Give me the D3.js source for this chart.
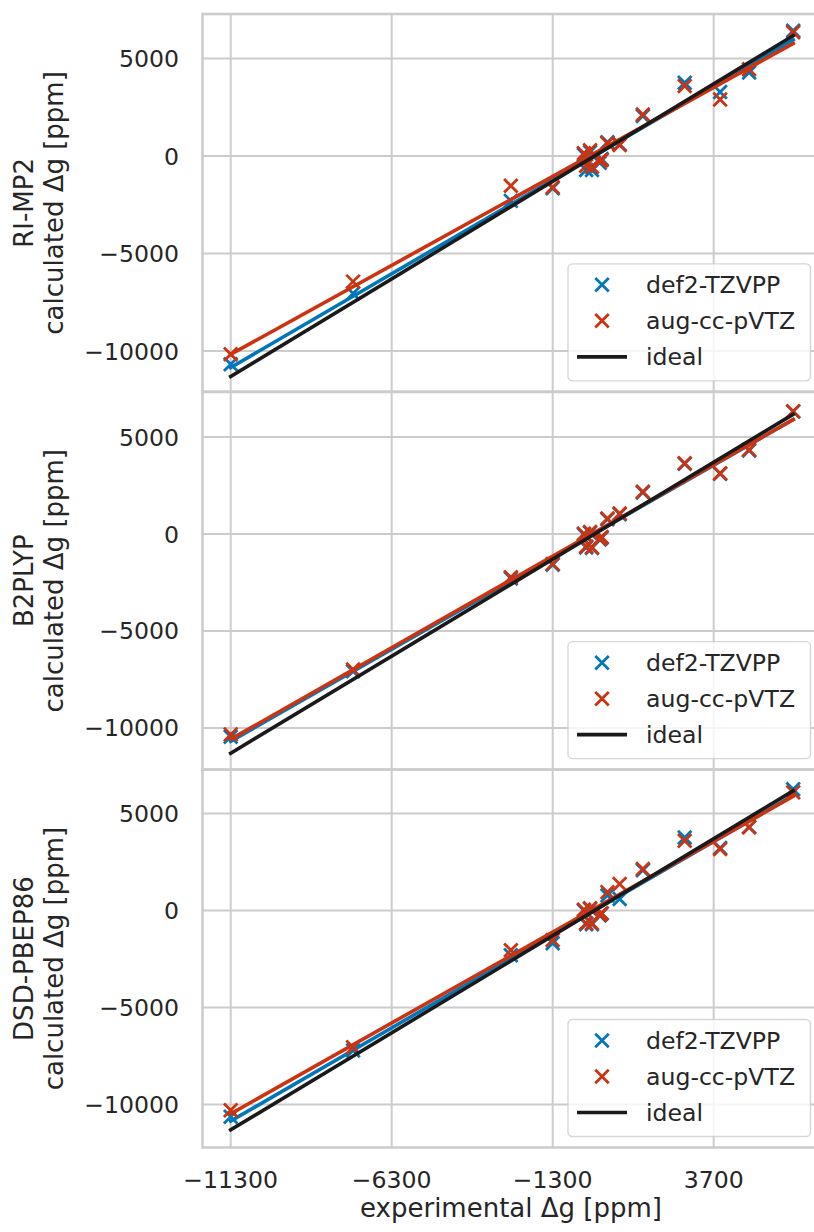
<!DOCTYPE html>
<html>
<head>
<meta charset="utf-8">
<script src="https://cdn.jsdelivr.net/npm/d3@7"></script>
<style>
  body { margin: 0; background: #fff; }
  text { font-family: "DejaVu Sans", sans-serif; fill: #262626; }
</style>
</head>
<body>
<div id="chart"></div>
<script>
// experimental g-shifts (x) shared by all three panels
var expShift = [-11300, -7500, -2600, -1300, -330, -260, -140, -80, 160, 220, 400, 780, 1500, 2800, 3900, 4800, 6170];

var methods = ["RI-MP2", "B2PLYP", "DSD-PBEP86"];
var basisSets = ["def2-TZVPP", "aug-cc-pVTZ"];

// calculated g-shifts, one array per method / basis
var mp2Def2 = [-10680, -7050, -2300, -1660, 60, -720, 200, -720, -350, -150, 700, 600, 2050, 3760, 3280, 4280, 6420];
var mp2Aug  = [-10160, -6440, -1530, -1600, 140, -500, 300, -550, -250, -200, 650, 570, 2130, 3590, 2900, 4450, 6340];
var b2Def2  = [-10450, -7080, -2290, -1590, -20, -690, 60, -720, -280, -190, 760, 1020, 2140, 3620, 3100, 4310, 6310];
var b2Aug   = [-10330, -6990, -2230, -1540, 20, -650, 100, -680, -240, -150, 800, 1060, 2180, 3650, 3130, 4340, 6330];
var dsdDef2 = [-10630, -7210, -2300, -1690, 0, -700, 80, -700, -250, -150, 770, 600, 2080, 3770, 3230, 4300, 6250];
var dsdAug  = [-10290, -7040, -2040, -1520, 40, -650, 120, -660, -220, -140, 950, 1370, 2140, 3600, 3170, 4290, 6090];

var xTicks = [-11300, -6300, -1300, 3700];
var yTicks = [-10000, -5000, 0, 5000];

var panelSeries = [[mp2Def2, mp2Aug], [b2Def2, b2Aug], [dsdDef2, dsdAug]];
var yDomains = [[-12090, 7280], [-12150, 7330], [-12210, 7260]];

var colors = ["#0077BB", "#CC3311"];

var w = 814;
var h = 1232;
var left = 202.5, right = 818;
var top0 = 14, bottom0 = 1147.5;
var ph = (bottom0 - top0) / 3;
var tickFont = 23.6, labelFont = 26;
var lineW = 3.6;

var xscale = d3.scaleLinear()
    .domain([-12176, 6940])
    .range([left, right]);

var svg = d3.select("#chart")
    .append("svg")
    .attr("width", w)
    .attr("height", h);

// least squares fit, like seaborn regplot
function fit(xs, ys) {
    var mx = d3.mean(xs), my = d3.mean(ys);
    var sxy = 0, sxx = 0;
    for (var i = 0; i < xs.length; i++) {
        sxy += (xs[i] - mx) * (ys[i] - my);
        sxx += (xs[i] - mx) * (xs[i] - mx);
    }
    var b = sxy / sxx;
    return function(x) { return my + b * (x - mx); };
}

function xMark(g, x, y, size, color) {
    var s = size / 2;
    g.append("path")
        .attr("d", "M" + (x - s) + "," + (y - s) + "L" + (x + s) + "," + (y + s) +
                   "M" + (x - s) + "," + (y + s) + "L" + (x + s) + "," + (y - s))
        .attr("stroke", color)
        .attr("stroke-width", 2.8)
        .attr("fill", "none");
}

var xmin = d3.min(expShift), xmax = d3.max(expShift);

methods.forEach(function(method, p) {
    var pt = top0 + p * ph;
    var pb = pt + ph;
    var yscale = d3.scaleLinear().domain(yDomains[p]).range([pb, pt]);

    var g = svg.append("g");

    g.append("defs").append("clipPath").attr("id", "clip" + p)
        .append("rect").attr("x", left).attr("y", pt).attr("width", right - left).attr("height", ph);

    // grid
    g.selectAll(".vgrid").data(xTicks).enter().append("line")
        .attr("x1", function(d) { return xscale(d); })
        .attr("x2", function(d) { return xscale(d); })
        .attr("y1", pt).attr("y2", pb)
        .attr("stroke", "#cccccc").attr("stroke-width", 2);
    g.selectAll(".hgrid").data(yTicks).enter().append("line")
        .attr("x1", left).attr("x2", right)
        .attr("y1", function(d) { return yscale(d); })
        .attr("y2", function(d) { return yscale(d); })
        .attr("stroke", "#cccccc").attr("stroke-width", 2);

    var plot = g.append("g").attr("clip-path", "url(#clip" + p + ")");

    panelSeries[p].forEach(function(vals, s) {
        expShift.forEach(function(x, i) {
            xMark(plot, xscale(x), yscale(vals[i]), 13.5, colors[s]);
        });
        var f = fit(expShift, vals);
        plot.append("line")
            .attr("x1", xscale(xmin)).attr("y1", yscale(f(xmin)))
            .attr("x2", xscale(xmax)).attr("y2", yscale(f(xmax)))
            .attr("stroke", colors[s]).attr("stroke-width", lineW)
            .attr("stroke-linecap", "square");
    });

    plot.append("line")
        .attr("x1", xscale(xmin)).attr("y1", yscale(xmin))
        .attr("x2", xscale(xmax)).attr("y2", yscale(xmax))
        .attr("stroke", "#1a1a1a").attr("stroke-width", lineW)
        .attr("stroke-linecap", "square");

    // frame
    g.append("rect")
        .attr("x", left).attr("y", pt)
        .attr("width", right - left).attr("height", ph)
        .attr("fill", "none").attr("stroke", "#cccccc").attr("stroke-width", 2.6);

    // y tick labels
    g.selectAll(".ytl").data(yTicks).enter().append("text")
        .attr("x", 179)
        .attr("y", function(d) { return yscale(d) + 8.5; })
        .attr("text-anchor", "end")
        .style("font-size", tickFont + "px")
        .text(function(d) { return d3.format("d")(d); });

    // y label, two lines
    var cy = (pt + pb) / 2;
    g.append("text")
        .attr("transform", "translate(33," + cy + ") rotate(-90)")
        .attr("text-anchor", "middle")
        .style("font-size", labelFont + "px")
        .text(method);
    g.append("text")
        .attr("transform", "translate(63," + cy + ") rotate(-90)")
        .attr("text-anchor", "middle")
        .style("font-size", labelFont + "px")
        .text("calculated Δg [ppm]");

    // legend
    var lb = pb - 11, lt = lb - 117;
    var lg = g.append("g");
    lg.append("rect")
        .attr("x", 568).attr("y", lt)
        .attr("width", 242.5).attr("height", lb - lt)
        .attr("rx", 4.5)
        .attr("fill", "#ffffff").attr("fill-opacity", 0.8)
        .attr("stroke", "#cccccc").attr("stroke-opacity", 0.8).attr("stroke-width", 1.4);
    var rows = [lt + 21, lt + 57, lt + 93];
    basisSets.forEach(function(name, s) {
        xMark(lg, 602, rows[s], 13.5, colors[s]);
        lg.append("text")
            .attr("x", 646).attr("y", rows[s] + 8.5)
            .style("font-size", tickFont + "px")
            .text(name);
    });
    lg.append("line")
        .attr("x1", 577).attr("x2", 627)
        .attr("y1", rows[2]).attr("y2", rows[2])
        .attr("stroke", "#1a1a1a").attr("stroke-width", lineW);
    lg.append("text")
        .attr("x", 646).attr("y", rows[2] + 8.5)
        .style("font-size", tickFont + "px")
        .text("ideal");

    if (p === 2) {
        g.selectAll(".xtl").data(xTicks).enter().append("text")
            .attr("x", function(d) { return xscale(d); })
            .attr("y", 1188)
            .attr("text-anchor", "middle")
            .style("font-size", tickFont + "px")
            .text(function(d) { return d3.format("d")(d); });
        g.append("text")
            .attr("x", 511).attr("y", 1217)
            .attr("text-anchor", "middle")
            .style("font-size", labelFont + "px")
            .text("experimental Δg [ppm]");
    }
});
</script>
</body>
</html>
